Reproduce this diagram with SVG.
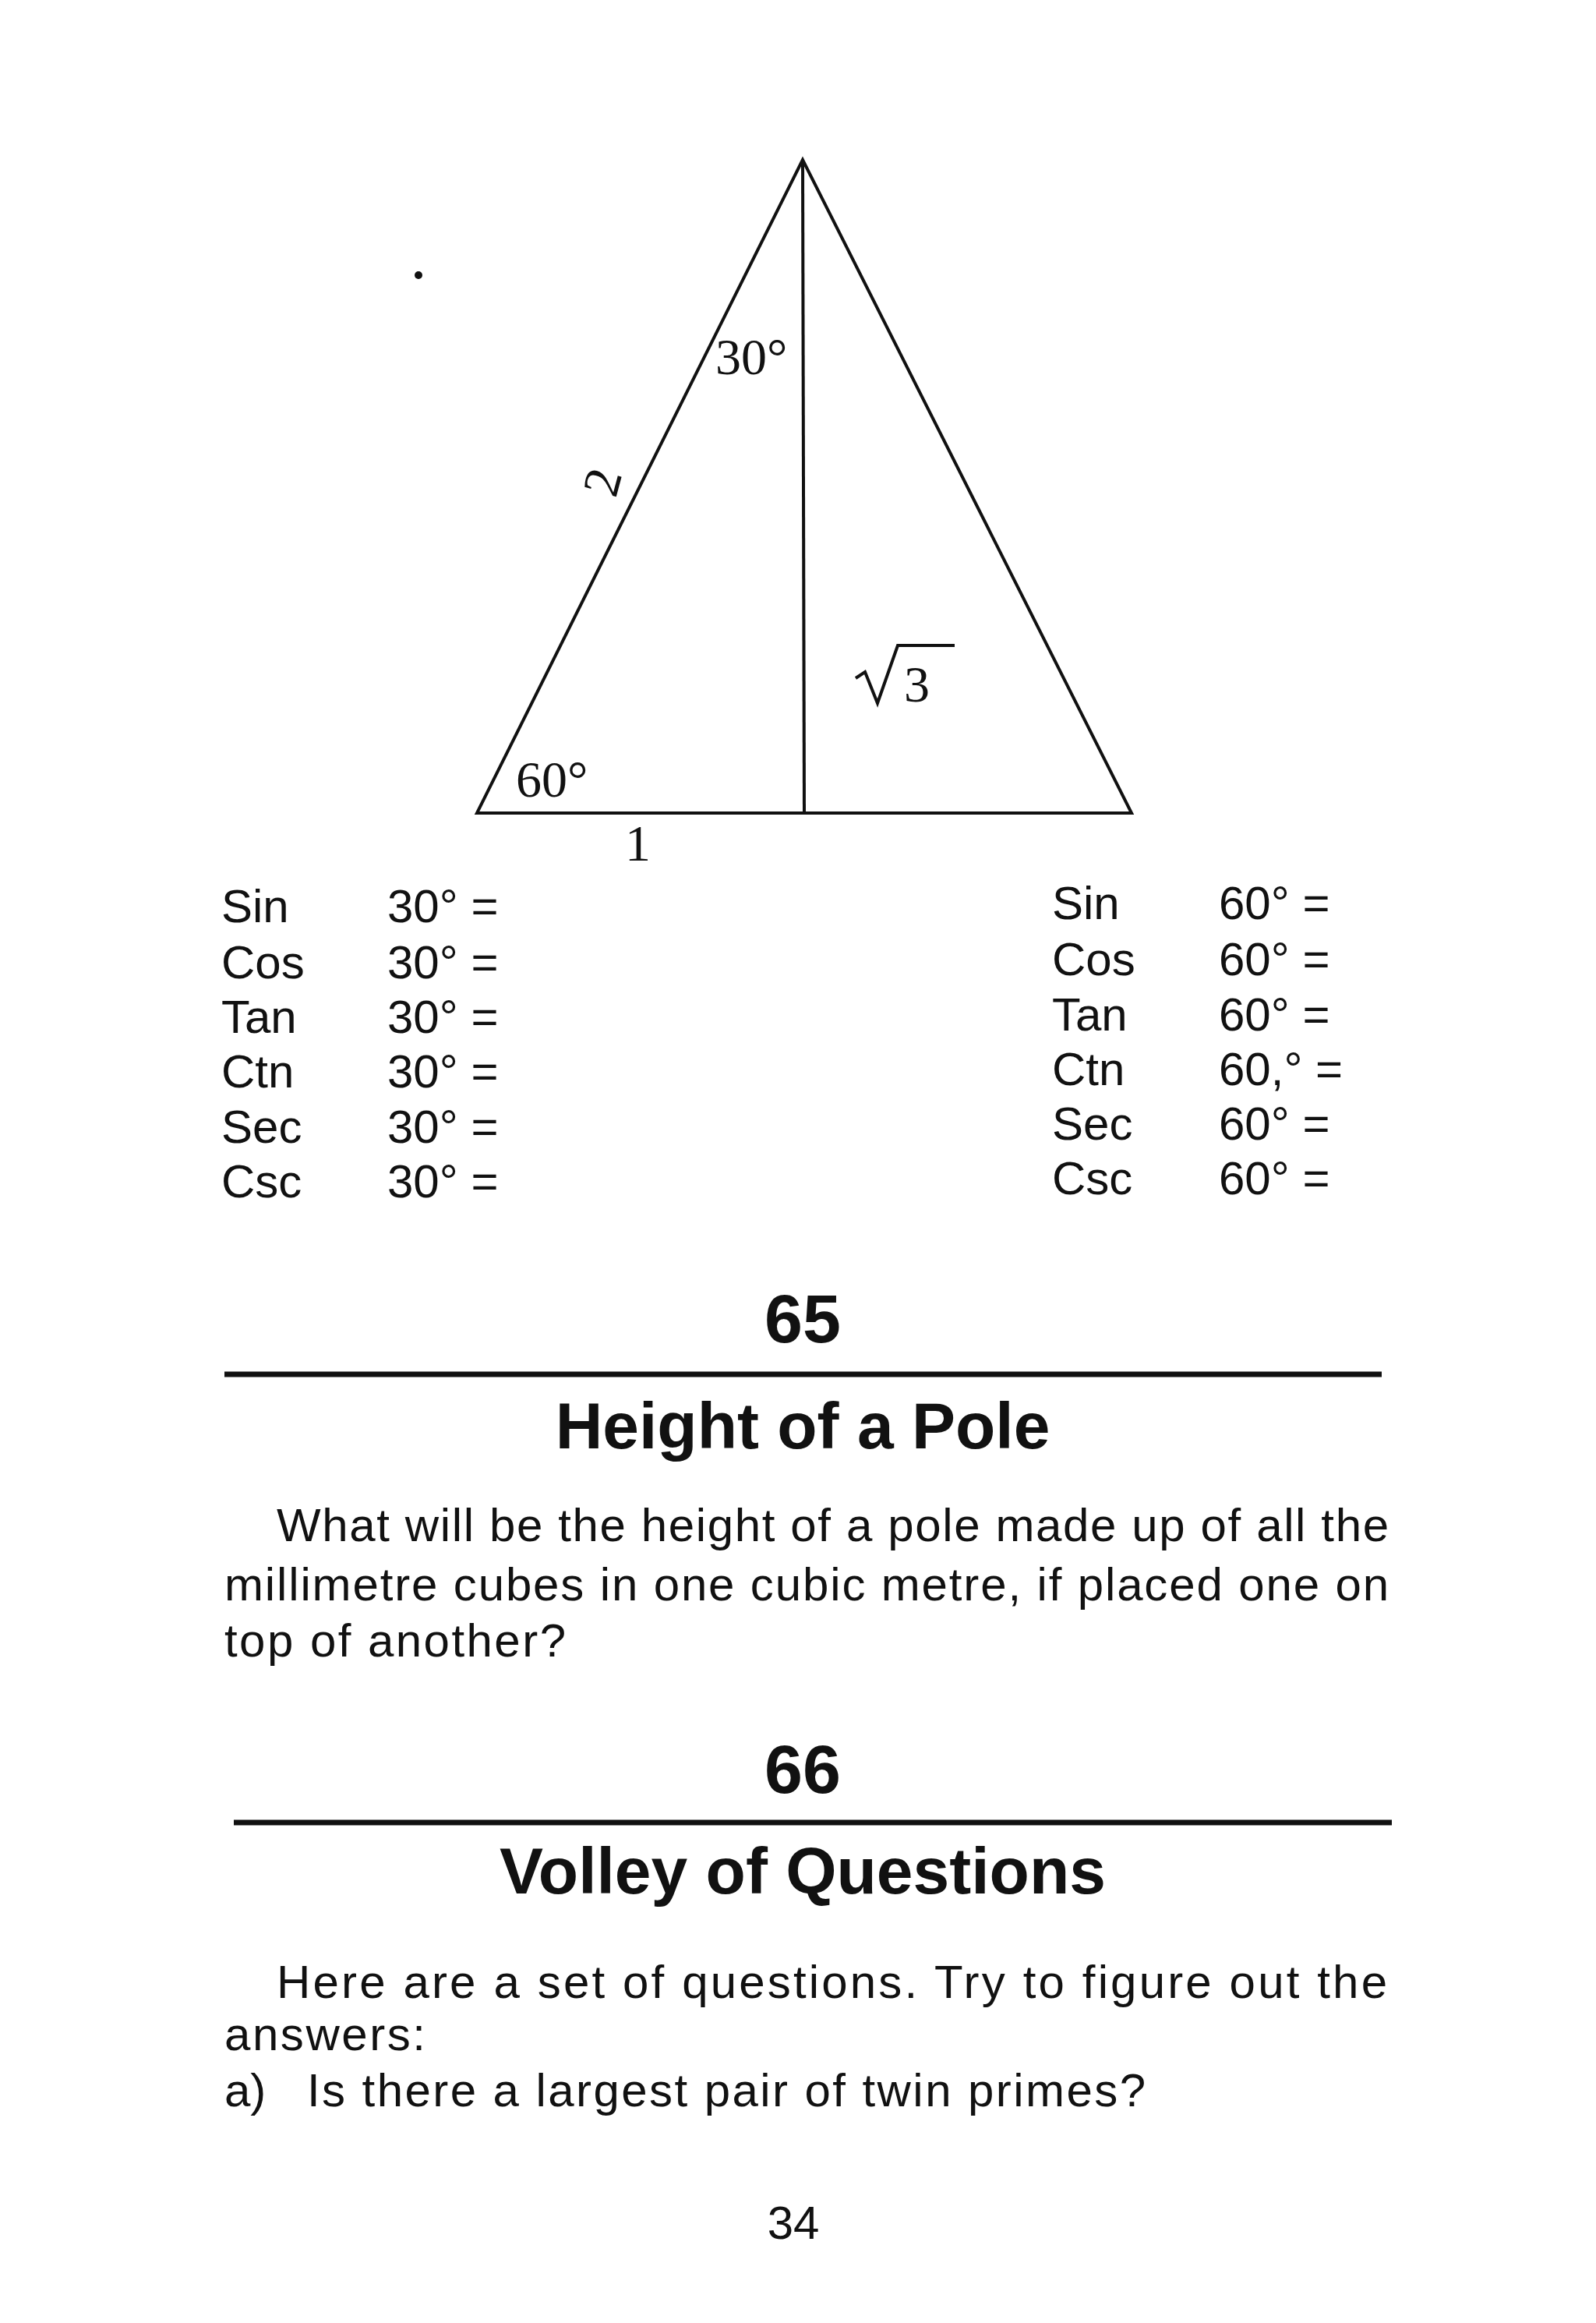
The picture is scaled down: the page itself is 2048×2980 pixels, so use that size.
<svg xmlns="http://www.w3.org/2000/svg" width="2048" height="2980" viewBox="0 0 2048 2980">
<style>
.s{font-family:"Liberation Serif",serif;font-size:66px;fill:#111}
.t{font-family:"Liberation Sans",sans-serif;font-size:60px;fill:#111}
.b{font-family:"Liberation Sans",sans-serif;font-weight:bold;fill:#111;text-anchor:middle}
line{stroke:#111}
</style>
<rect width="2048" height="2980" fill="#fff"/>
<g id="triangle">
<polygon points="1030,205 612,1043 1452,1043" fill="none" stroke="#111" stroke-width="4"/>
<line x1="1030" y1="205" x2="1032" y2="1043" stroke-width="4"/>
<circle cx="537" cy="353" r="5" fill="#111"/>
<text class="s" x="918" y="480">30°</text>
<text class="s" x="0" y="0" transform="translate(790,640) rotate(-75)">2</text>
<path d="M1098,870 L1110,862 L1126,902 L1152,828 L1225,828" fill="none" stroke="#111" stroke-width="4"/>
<text class="s" x="1160" y="900">3</text>
<text class="s" x="662" y="1022">60°</text>
<text class="s" x="802" y="1104">1</text>
</g>
<g id="table-left" class="t">
<text x="284" y="1183">Sin</text><text x="497" y="1183">30° =</text>
<text x="284" y="1255">Cos</text><text x="497" y="1255">30° =</text>
<text x="284" y="1325">Tan</text><text x="497" y="1325">30° =</text>
<text x="284" y="1395">Ctn</text><text x="497" y="1395">30° =</text>
<text x="284" y="1466">Sec</text><text x="497" y="1466">30° =</text>
<text x="284" y="1536">Csc</text><text x="497" y="1536">30° =</text>
</g>
<g id="table-right" class="t">
<text x="1350" y="1179">Sin</text><text x="1564" y="1179">60° =</text>
<text x="1350" y="1251">Cos</text><text x="1564" y="1251">60° =</text>
<text x="1350" y="1322">Tan</text><text x="1564" y="1322">60° =</text>
<text x="1350" y="1392">Ctn</text><text x="1564" y="1392">60,° =</text>
<text x="1350" y="1462">Sec</text><text x="1564" y="1462">60° =</text>
<text x="1350" y="1532">Csc</text><text x="1564" y="1532">60° =</text>
</g>
<g id="p65">
<text class="b" x="1030" y="1722" font-size="88">65</text>
<line x1="288" y1="1763" x2="1773" y2="1763" stroke-width="7"/>
<text class="b" x="1030" y="1858" font-size="84">Height of a Pole</text>
<text class="t" x="355" y="1977" textLength="1427" lengthAdjust="spacing">What will be the height of a pole made up of all the</text>
<text class="t" x="288" y="2053" textLength="1494" lengthAdjust="spacing">millimetre cubes in one cubic metre, if placed one on</text>
<text class="t" x="288" y="2125" textLength="438" lengthAdjust="spacing">top of another?</text>
</g>
<g id="p66">
<text class="b" x="1030" y="2300" font-size="88">66</text>
<line x1="300" y1="2338" x2="1786" y2="2338" stroke-width="7"/>
<text class="b" x="1030" y="2429" font-size="84">Volley of Questions</text>
<text class="t" x="355" y="2563" textLength="1425" lengthAdjust="spacing">Here are a set of questions. Try to figure out the</text>
<text class="t" x="288" y="2630" textLength="258" lengthAdjust="spacing">answers:</text>
<text class="t" x="288" y="2702">a)</text>
<text class="t" x="394" y="2702" textLength="1076" lengthAdjust="spacing">Is there a largest pair of twin primes?</text>
</g>
<text class="t" x="1018" y="2872" font-size="50" text-anchor="middle">34</text>
</svg>
